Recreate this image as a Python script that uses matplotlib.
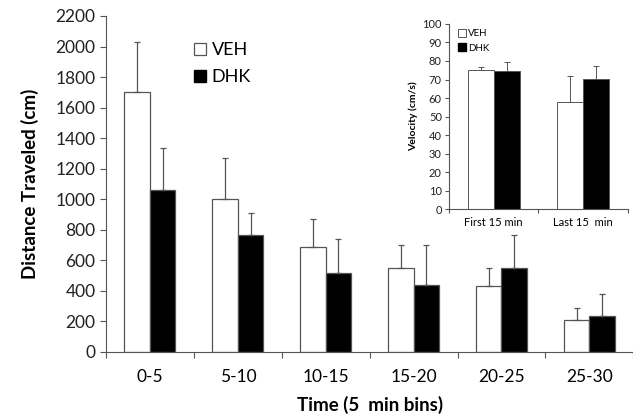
import numpy as np
import matplotlib
matplotlib.use("Agg")
import matplotlib.pyplot as plt
from matplotlib.lines import Line2D

plt.rcParams['font.family'] = ['Lato', 'DejaVu Sans']

# main chart: distance traveled per 5 min bin
bins = ["0-5", "5-10", "10-15", "15-20", "20-25", "25-30"]
veh_dist = [1700, 1000, 690, 550, 430, 210]
veh_dist_err = [330, 270, 180, 150, 120, 75]
dhk_dist = [1062, 768, 517, 437, 550, 235]
dhk_dist_err = [273, 142, 220, 263, 213, 145]

# inset: velocity
periods = ["First 15 min", "Last 15  min"]
veh_vel = [75, 58]
veh_vel_err = [2, 14]
dhk_vel = [74.5, 70.5]
dhk_vel_err = [5, 7]

EDGE = "#555555"


def draw_bars(ax, labels, veh, veh_err, dhk, dhk_err, width, lw):
    x = np.arange(len(labels))
    ekw = dict(ecolor=EDGE, elinewidth=lw, capsize=2.5, capthick=lw)
    ax.bar(x - width / 2, veh, width, color="white", edgecolor=EDGE, linewidth=lw,
           yerr=[np.zeros(len(veh)), veh_err], error_kw=ekw)
    ax.bar(x + width / 2, dhk, width, color="black", edgecolor=EDGE, linewidth=lw,
           yerr=[np.zeros(len(dhk)), dhk_err], error_kw=ekw)
    ax.set_xlim(-0.5, len(labels) - 0.5)
    # category ticks sit at the boundaries, labels in the middle
    ax.set_xticks(np.arange(len(labels) + 1) - 0.5)
    ax.set_xticklabels([])
    ax.set_xticks(x, minor=True)
    ax.set_xticklabels(labels, minor=True)
    ax.tick_params(axis="x", which="minor", length=0)
    for s in ["top", "right"]:
        ax.spines[s].set_visible(False)
    ax.spines["left"].set_color(EDGE)
    ax.spines["bottom"].set_color(EDGE)
    ax.tick_params(colors=EDGE, labelcolor="#222222")


fig = plt.figure(figsize=(6.33, 4.2), dpi=100)

ax = fig.add_axes([0.1675, 0.162, 0.833, 0.8])
draw_bars(ax, bins, veh_dist, veh_dist_err, dhk_dist, dhk_dist_err, 0.29, 0.9)
ax.set_ylim(0, 2200)
ax.set_yticks(np.arange(0, 2201, 200))
ax.tick_params(axis="both", which="both", labelsize=12.5, length=4)
ax.tick_params(axis="x", which="minor", pad=12, length=0)
ax.set_ylabel("Distance Traveled (cm)", fontsize=13.5, fontweight="bold", labelpad=12)
ax.set_xlabel("Time (5  min bins)", fontsize=13.5, fontweight="bold", labelpad=8)

handles = [Line2D([], [], marker="s", ls="none", markersize=8, markerfacecolor="white",
                  markeredgecolor=EDGE, markeredgewidth=0.9),
           Line2D([], [], marker="s", ls="none", markersize=8, markerfacecolor="black",
                  markeredgecolor="black")]
ax.legend(handles, ["VEH", "DHK"], loc="upper left", bbox_to_anchor=(0.13, 0.97),
          frameon=False, fontsize=13, handletextpad=0.15, labelspacing=0.6,
          handlelength=1.0)

ins = fig.add_axes([0.709, 0.502, 0.283, 0.441])
draw_bars(ins, periods, veh_vel, veh_vel_err, dhk_vel, dhk_vel_err, 0.29, 0.7)
ins.set_ylim(0, 100)
ins.set_yticks(np.arange(0, 101, 10))
ins.tick_params(axis="both", which="both", labelsize=8, length=3, pad=2)
ins.tick_params(axis="x", which="minor", pad=6, length=0)
ins.set_ylabel("Velocity (cm/s)", fontsize=7.5, fontweight="bold", labelpad=3)
hs = [Line2D([], [], marker="s", ls="none", markersize=5.5, markerfacecolor="white",
             markeredgecolor=EDGE, markeredgewidth=0.7),
      Line2D([], [], marker="s", ls="none", markersize=5.5, markerfacecolor="black",
             markeredgecolor="black")]
ins.legend(hs, ["VEH", "DHK"], loc="upper left", bbox_to_anchor=(0.0, 1.02),
           frameon=False, fontsize=7, handletextpad=0.1, labelspacing=0.6,
           handlelength=1.0)

fig.savefig("out.png", dpi=100)
